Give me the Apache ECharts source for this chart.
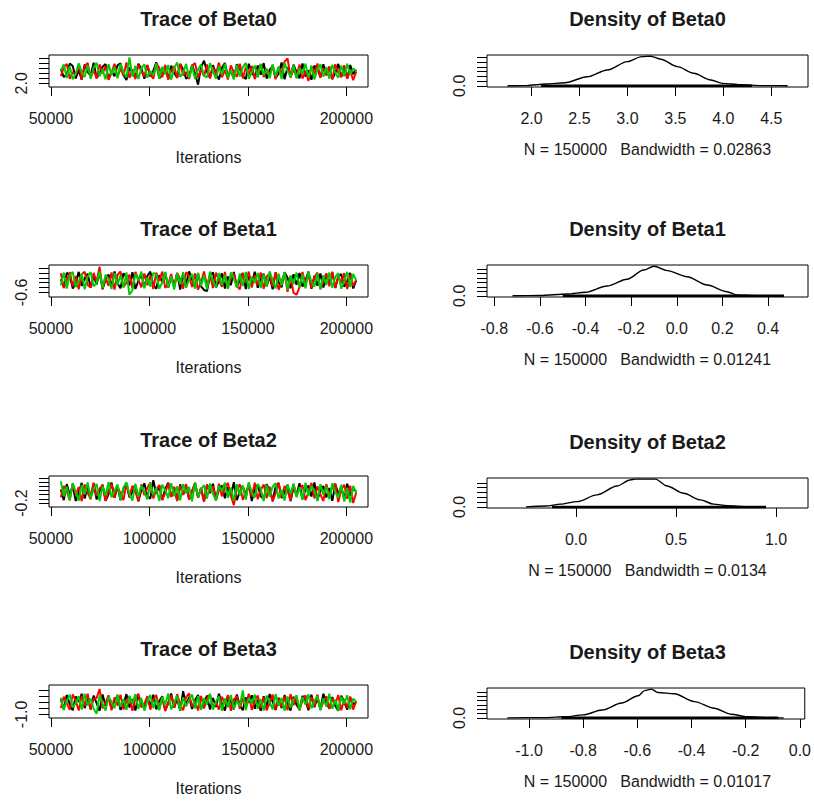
<!DOCTYPE html>
<html><head><meta charset="utf-8">
<script src="https://cdn.jsdelivr.net/npm/echarts@6/dist/echarts.min.js"></script>
<style>html,body{margin:0;padding:0;background:#fff}#c{width:814px;height:801px}</style>
</head><body><div id="c"></div>
<script>
// ---------------- data ----------------
const params = ['Beta0', 'Beta1', 'Beta2', 'Beta3'];
const iterRange = [55000, 205000];          // iterations shown in each chain
const iterTicks = [50000, 100000, 150000, 200000];
const chainColors = ['#000000', '#ff0000', '#00cd00'];

const beta0Black = [3.42,2.61,2.88,3.95,3.71,2.47,3.30,2.36,3.86,3.12,
  2.74,4.03,2.52,2.95,3.64,3.89,2.41,3.18,2.69,3.77,
  3.98,2.83,2.33,3.55,3.06,2.58,3.92,3.48,2.44,3.81,
  2.66,3.25,4.08,2.50,2.79,3.67,2.39,3.74,3.01,2.56,
  3.90,3.36,2.45,2.72,3.83,2.91,1.86,3.60,4.22,3.14,
  2.55,3.79,2.98,2.37,3.52,4.01,2.64,3.21,2.49,3.87,
  3.44,2.70,2.42,3.93,3.09,2.60,3.76,2.85,3.99,2.46,
  3.33,3.70,2.53,2.94,4.05,2.40,3.58,2.77,3.84,3.11,
  2.48,3.96,2.67,3.27,2.35,3.73,3.50,2.59,3.88,2.81,
  3.62,2.43,3.02,3.91,2.63,3.45,2.51,3.80,2.90,3.35];
const beta0Red = [2.71,3.58,3.92,2.44,3.13,2.82,3.79,2.39,3.66,4.00,
  2.57,3.29,2.48,3.87,2.96,3.71,2.35,3.04,3.93,2.62,
  3.47,2.75,4.06,2.53,3.38,2.41,3.84,3.19,2.68,3.76,
  2.88,2.45,3.97,3.52,2.60,3.82,2.37,3.23,3.68,2.52,
  3.90,2.79,3.11,2.43,3.74,3.99,2.56,3.40,2.70,3.86,
  2.46,3.63,2.92,4.04,2.58,3.31,2.38,3.77,3.07,2.65,
  3.94,2.50,3.55,2.84,3.70,2.42,3.16,3.89,2.61,3.43,
  2.74,3.81,2.40,3.60,2.97,4.14,4.45,2.55,3.36,2.69,
  3.85,2.47,3.21,2.22,3.72,2.90,3.95,2.54,3.48,2.78,
  3.67,2.36,3.88,3.05,2.59,3.78,2.44,3.26,2.30,3.15];
const beta0Green = [3.26,3.85,2.52,3.67,2.40,2.93,3.97,3.12,2.61,3.78,
  2.45,3.54,4.02,2.70,3.35,2.38,3.89,2.83,3.61,2.49,
  3.93,3.08,2.57,4.55,2.66,3.74,2.43,3.46,3.87,2.55,
  3.20,2.78,3.96,2.47,3.63,2.89,3.81,2.36,3.52,4.05,
  2.64,3.01,3.91,2.51,3.72,2.42,3.39,3.84,2.73,2.58,
  3.99,3.17,2.46,3.69,2.86,3.93,2.53,3.28,2.39,3.80,
  2.68,3.57,4.01,2.44,3.10,3.75,2.59,3.90,2.80,3.42,
  2.50,3.86,2.72,3.64,2.41,3.98,3.22,2.63,3.79,2.48,
  3.50,2.91,3.94,2.56,3.70,2.37,3.33,3.87,2.66,3.60,
  2.45,3.83,3.04,2.54,3.76,2.69,3.92,2.81,3.47,3.18];

// Beta1 chains
const beta1Black = [-0.05,-0.38,0.21,0.12,-0.44,-0.19,0.25,-0.33,-0.02,0.17,
  -0.41,0.09,-0.27,0.23,-0.47,-0.08,0.14,-0.36,0.27,-0.22,
  -0.43,0.19,0.04,-0.31,0.24,-0.46,-0.12,0.16,-0.38,0.08,
  0.26,-0.29,-0.45,0.11,-0.17,0.22,-0.40,0.03,-0.34,0.20,
  -0.48,0.15,-0.25,0.27,-0.06,-0.42,0.18,-0.35,-0.50,-0.55,
  0.10,0.23,-0.39,-0.14,0.19,-0.44,0.06,-0.30,0.25,-0.37,
  -0.09,0.21,-0.46,0.13,-0.23,0.26,-0.41,-0.03,0.17,-0.35,
  0.07,-0.47,0.22,-0.18,-0.39,0.24,0.01,-0.43,0.15,-0.28,
  0.20,-0.36,-0.11,0.26,-0.45,0.09,-0.32,0.18,-0.40,0.12,
  -0.24,0.23,-0.42,0.05,0.16,-0.37,-0.15,0.21,-0.44,-0.10];
const beta1Red = [0.19,-0.42,-0.10,0.24,-0.35,0.08,-0.47,0.15,0.26,-0.29,
  -0.40,0.21,-0.16,0.46,-0.44,0.02,-0.33,0.23,-0.48,0.12,
  0.27,-0.37,-0.21,0.14,-0.43,0.25,-0.07,-0.39,0.18,-0.30,
  0.10,-0.46,0.22,-0.13,0.26,-0.41,-0.26,0.16,-0.36,0.20,
  -0.04,-0.45,0.24,0.07,-0.38,0.19,-0.49,-0.18,0.27,-0.32,
  0.13,-0.42,0.22,-0.09,-0.37,0.25,-0.44,0.04,0.17,-0.34,
  -0.47,0.20,-0.20,0.26,-0.40,0.11,-0.31,0.23,-0.45,0.06,
  0.18,-0.36,0.24,-0.50,-0.14,0.21,-0.58,0.09,-0.62,-0.70,
  -0.38,0.25,-0.27,0.15,-0.43,0.03,0.22,-0.47,-0.12,0.19,
  -0.35,0.26,-0.41,0.08,-0.23,0.20,-0.46,0.13,-0.33,-0.08];
const beta1Green = [-0.31,0.22,-0.44,0.09,0.25,-0.38,-0.14,0.18,-0.47,0.06,
  0.24,-0.35,-0.21,0.27,-0.42,0.13,-0.03,-0.46,0.20,-0.28,
  0.11,-0.40,0.23,-0.70,-0.52,0.17,-0.11,0.26,-0.43,0.02,
  -0.36,0.21,0.14,-0.45,-0.19,0.25,-0.39,0.07,-0.48,0.19,
  -0.26,0.24,-0.41,-0.06,0.16,-0.44,0.22,-0.33,0.10,-0.47,
  0.26,-0.15,-0.38,0.20,-0.29,0.12,-0.45,0.23,-0.02,-0.40,
  0.18,-0.34,0.25,-0.46,0.05,-0.22,0.21,-0.42,0.15,-0.37,
  0.27,-0.09,-0.44,0.17,-0.31,0.24,-0.48,0.08,-0.25,0.22,
  -0.39,0.14,-0.43,0.26,-0.17,-0.36,0.19,-0.46,0.11,-0.30,
  0.23,-0.41,0.04,0.20,-0.45,-0.13,0.25,-0.38,0.16,-0.10];

// Beta2 chains
const beta2Black = [0.45,-0.06,0.71,0.18,0.63,-0.10,0.29,0.77,0.02,0.56,
  0.12,0.74,-0.03,0.38,0.68,-0.09,0.22,0.79,0.05,0.60,
  -0.07,0.51,0.72,0.08,0.33,0.66,-0.11,0.42,0.75,0.14,
  0.01,0.90,0.25,0.64,-0.05,0.48,0.78,0.10,0.57,-0.08,
  0.70,0.20,0.61,-0.02,0.36,0.76,0.06,0.53,-0.12,0.69,
  0.27,0.73,-0.04,0.44,0.65,0.03,0.58,0.16,0.80,-0.06,
  0.35,0.62,0.09,0.74,-0.10,0.50,0.67,0.13,-0.01,0.71,
  0.40,-0.08,0.59,0.77,0.04,0.31,0.68,-0.11,0.55,0.19,
  0.75,0.00,0.46,0.64,0.11,0.79,-0.05,0.37,0.62,0.07,
  0.52,-0.09,0.70,0.24,0.58,-0.03,0.73,0.15,0.49,0.36];
const beta2Red = [0.08,0.62,0.37,-0.07,0.74,0.21,0.56,-0.11,0.69,0.30,
  -0.02,0.78,0.14,0.49,0.66,-0.09,0.41,0.72,0.05,0.59,
  0.26,-0.06,0.75,0.11,0.63,0.34,-0.12,0.70,0.18,0.53,
  0.79,0.02,0.45,0.67,-0.04,0.28,0.74,0.09,0.57,-0.10,
  0.64,0.19,0.71,-0.03,0.40,0.76,0.06,0.50,-0.14,0.68,
  0.33,0.61,-0.08,0.73,0.12,0.55,0.77,0.15,-0.30,0.46,
  0.70,-0.05,0.35,0.64,0.10,0.78,-0.01,0.43,0.69,0.04,
  0.58,-0.13,0.27,0.75,0.08,0.62,0.39,-0.09,0.72,0.17,
  0.51,0.66,-0.06,0.31,0.77,0.03,0.60,0.22,-0.10,0.71,
  0.13,0.54,0.74,-0.15,0.44,0.68,0.01,0.63,-0.20,0.30];
const beta2Green = [0.85,0.12,0.58,-0.05,0.76,0.33,-0.09,0.67,0.21,0.79,
  0.03,0.47,0.72,-0.11,0.60,0.16,0.81,0.07,0.39,0.69,
  -0.04,0.55,0.80,0.24,-0.08,0.73,0.10,0.63,0.35,-0.02,
  0.77,0.19,0.52,-0.10,0.68,0.42,0.04,0.75,0.13,0.61,
  -0.07,0.71,0.28,0.57,-0.12,0.79,0.09,0.46,0.66,0.01,
  0.74,0.23,-0.06,0.62,0.37,0.78,0.05,0.54,-0.09,0.70,
  0.17,0.65,-0.03,0.80,0.30,0.06,0.72,0.49,-0.11,0.67,
  0.11,0.59,0.76,0.02,0.44,-0.08,0.69,0.25,0.73,0.08,
  0.56,-0.05,0.78,0.14,0.63,0.38,-0.10,0.71,0.20,0.60,
  -0.02,0.75,0.32,0.07,0.68,-0.13,0.54,-0.18,0.62,0.28];

// Beta3 chains
const beta3Black = [-0.50,-0.82,-0.35,-0.67,-0.86,-0.40,-0.58,-0.31,-0.79,-0.46,
  -0.84,-0.37,-0.62,-0.88,-0.33,-0.71,-0.44,-0.80,-0.54,-0.38,
  -0.85,-0.66,-0.32,-0.77,-0.49,-0.87,-0.36,-0.60,-0.81,-0.41,
  -0.73,-0.34,-0.83,-0.55,-0.39,-0.86,-0.63,-0.30,-0.78,-0.47,
  -0.88,-0.22,-0.69,-0.42,-0.82,-0.52,-0.35,-0.80,-0.59,-0.37,
  -0.84,-0.45,-0.75,-0.31,-0.65,-0.87,-0.40,-0.56,-0.83,-0.33,
  -0.70,-0.86,-0.43,-0.61,-0.36,-0.81,-0.51,-0.88,-0.39,-0.74,
  -0.32,-0.57,-0.85,-0.44,-0.79,-0.35,-0.64,-0.87,-0.41,-0.68,
  -0.83,-0.38,-0.53,-0.86,-0.34,-0.76,-0.46,-0.82,-0.31,-0.62,
  -0.80,-0.42,-0.72,-0.88,-0.37,-0.58,-0.84,-0.45,-0.66,-0.60];
const beta3Red = [-0.79,-0.41,-0.63,-0.85,-0.33,-0.54,-0.87,-0.38,-0.72,-0.31,
  -0.82,-0.48,-0.45,-0.15,-0.80,-0.60,-0.36,-0.86,-0.43,-0.70,
  -0.34,-0.83,-0.57,-0.39,-0.88,-0.47,-0.31,-0.76,-0.65,-0.40,
  -0.84,-0.52,-0.35,-0.81,-0.44,-0.89,-0.61,-0.37,-0.78,-0.32,
  -0.68,-0.86,-0.42,-0.30,-0.74,-0.55,-0.87,-0.38,-0.80,-0.46,
  -0.33,-0.77,-0.59,-0.84,-0.41,-0.66,-0.35,-0.88,-0.50,-0.39,
  -0.81,-0.45,-0.71,-0.31,-0.85,-0.56,-0.37,-0.79,-0.43,-0.87,
  -0.62,-0.34,-0.83,-0.48,-0.76,-0.40,-0.86,-0.32,-0.69,-0.44,
  -0.87,-0.53,-0.36,-0.80,-0.42,-0.74,-0.33,-0.85,-0.58,-0.39,
  -0.82,-0.46,-0.67,-0.35,-0.86,-0.49,-0.78,-0.40,-0.84,-0.55];
const beta3Green = [-0.44,-0.86,-0.53,-0.34,-0.77,-0.62,-0.39,-0.84,-0.31,-0.70,
  -0.47,-0.81,-0.98,-0.36,-0.66,-0.87,-0.42,-0.57,-0.80,-0.33,
  -0.75,-0.50,-0.85,-0.38,-0.64,-0.32,-0.82,-0.45,-0.88,-0.56,
  -0.35,-0.79,-0.48,-0.86,-0.41,-0.69,-0.30,-0.83,-0.60,-0.37,
  -0.87,-0.43,-0.73,-0.52,-0.33,-0.80,-0.39,-0.85,-0.46,-0.68,
  -0.31,-0.84,-0.58,-0.40,-0.88,-0.47,-0.76,-0.35,-0.82,-0.54,
  -0.72,-0.20,-0.86,-0.44,-0.63,-0.34,-0.81,-0.49,-0.87,-0.37,
  -0.59,-0.83,-0.32,-0.71,-0.45,-0.88,-0.40,-0.78,-0.51,-0.36,
  -0.85,-0.42,-0.67,-0.33,-0.80,-0.55,-0.38,-0.86,-0.46,-0.74,
  -0.31,-0.81,-0.50,-0.87,-0.41,-0.65,-0.36,-0.83,-0.47,-0.58];

const traceYRange = [[1.633, 4.792], [-0.792, 0.535], [-0.39, 1.10], [-1.122, -0.015]];
const traceYTicks = [[2.0,2.5,3.0,3.5,4.0,4.5], [-0.6,-0.4,-0.2,0.0,0.2,0.4],
  [-0.2,0.0,0.2,0.4,0.6,0.8,1.0], [-1.0,-0.8,-0.6,-0.4,-0.2]];

// Density curves
const dens0X = [1.75,1.95,2.15,2.35,2.58,2.79,3.0,3.15,3.24,3.35,3.52,3.69,3.87,3.99,4.18,4.4,4.67];
const dens0Y = [0.0,0.01,0.076,0.13,0.38,0.67,1.02,1.23,1.25,1.12,0.81,0.53,0.245,0.105,0.046,0.01,0.0];
const dens1X = [-0.72,-0.60,-0.48,-0.40,-0.306,-0.218,-0.145,-0.10,-0.042,0.045,0.133,0.22,0.265,0.35,0.47];
const dens1Y = [0,0.03,0.2,0.39,1.09,1.85,2.87,3.3,2.81,2.13,1.2,0.46,0.09,0.02,0];
const dens2X = [-0.25,-0.15,-0.078,0.005,0.105,0.205,0.27,0.297,0.35,0.397,0.455,0.538,0.622,0.688,0.755,0.85,0.95];
const dens2Y = [0,0.09,0.29,0.55,1.25,2.18,2.81,2.9,2.9,2.9,2.18,1.42,0.73,0.29,0.12,0.03,0];
const dens3X = [-1.08,-0.94,-0.866,-0.80,-0.73,-0.658,-0.597,-0.573,-0.548,-0.524,-0.463,-0.39,-0.316,-0.255,-0.194,-0.12,-0.06];
const dens3Y = [0,0.03,0.13,0.34,0.9,1.71,2.55,3.15,3.32,2.93,2.78,1.88,1.11,0.42,0.13,0.03,0];

const densXRange = [[1.536, 4.883], [-0.832, 0.575], [-0.445, 1.16], [-1.155, 0.018]];
const densXTicks = [[2.0,2.5,3.0,3.5,4.0,4.5], [-0.8,-0.6,-0.4,-0.2,0.0,0.2,0.4],
  [0.0,0.5,1.0], [-1.0,-0.8,-0.6,-0.4,-0.2,0.0]];
const densYTicks = [[0,0.2,0.4,0.6,0.8,1.0,1.2], [0,0.5,1.0,1.5,2.0,2.5,3.0],
  [0,0.5,1.0,1.5,2.0,2.5], [0,0.5,1.0,1.5,2.0,2.5,3.0]];
const rugRange = [[2.1, 4.3], [-0.5, 0.47], [-0.12, 0.95], [-0.88, -0.08]];
const nObs = 150000;
const bandwidths = ['0.02863', '0.01241', '0.0134', '0.01017'];

// ---------------- layout (pixels) ----------------
const traceBox = [{l:49,t:55,w:319,h:32},{l:49,t:265,w:319,h:32},{l:49,t:476,w:319,h:31},{l:49,t:685,w:319,h:33}];
const densBox  = [{l:487,t:55,w:321,h:32},{l:487,t:265,w:321,h:32},{l:487,t:478,w:321,h:30},{l:487,t:688,w:321,h:31}];
const FONT = '"Liberation Sans", Arial, sans-serif';
const TXT = '#1a1a1a';

const traceData = [
  [beta0Black, beta0Red, beta0Green],
  [beta1Black, beta1Red, beta1Green],
  [beta2Black, beta2Red, beta2Green],
  [beta3Black, beta3Red, beta3Green]
];
const densData = [[dens0X, dens0Y], [dens1X, dens1Y], [dens2X, dens2Y], [dens3X, dens3Y]];

const grids = [], xAxes = [], yAxes = [], series = [], graphics = [];
function fmt1(v) { return (Math.abs(v) < 1e-9 ? 0 : v).toFixed(1); }

function addAxes(box, xr, xticks, xfmt, yr, yticks, ylabelVals) {
  const gi = grids.length;
  grids.push({left: box.l, top: box.t, width: box.w, height: box.h, show: true,
    borderColor: '#000', borderWidth: 1, backgroundColor: 'transparent', containLabel: false});
  xAxes.push({type: 'value', gridIndex: gi, min: xr[0], max: xr[1], position: 'bottom',
    axisLine: {show: false, onZero: false}, splitLine: {show: false},
    axisTick: {show: true, customValues: xticks, length: 9, lineStyle: {color: '#000', width: 1}},
    axisLabel: {show: true, customValues: xticks, formatter: xfmt, margin: 23,
      color: TXT, fontSize: 16, fontFamily: FONT, hideOverlap: false}});
  yAxes.push({type: 'value', gridIndex: gi, min: yr[0], max: yr[1], position: 'left',
    axisLine: {show: false, onZero: false}, splitLine: {show: false},
    axisTick: {show: true, customValues: yticks, length: 10, lineStyle: {color: '#000', width: 1}},
    axisLabel: {show: true, customValues: ylabelVals, formatter: fmt1, rotate: 90, margin: 20,
      color: TXT, fontSize: 16, fontFamily: FONT}});
  return gi;
}

function addText(x, y, text, bold, size) {
  graphics.push({type: 'text', x: x, y: y, silent: true,
    style: {text: text, fill: TXT, font: (bold ? 'bold ' : '') + size + 'px ' + FONT,
      align: 'center', verticalAlign: 'middle'}});
}

params.forEach(function (p, k) {
  // ---- trace panel ----
  const tb = traceBox[k];
  const span = iterRange[1] - iterRange[0];
  const gi = addAxes(tb, [iterRange[0] - 0.04 * span, iterRange[1] + 0.04 * span],
    iterTicks, function (v) { return String(v); },
    traceYRange[k], traceYTicks[k], [traceYTicks[k][0]]);
  traceData[k].forEach(function (chain, c) {
    const n = chain.length;
    const step = span / (n - 1);
    series.push({type: 'line', xAxisIndex: gi, yAxisIndex: gi, showSymbol: false, symbol: 'none',
      animation: false, silent: true, clip: true,
      lineStyle: {color: chainColors[c], width: 2},
      data: chain.map(function (v, i) { return [iterRange[0] + i * step, v]; })});
  });
  addText(tb.l + tb.w / 2, tb.t - 36, 'Trace of ' + p, true, 20);
  addText(tb.l + tb.w / 2, tb.t + tb.h + 70, 'Iterations', false, 16);

  // ---- density panel ----
  const db = densBox[k];
  const dx = densData[k][0], dy = densData[k][1];
  const M = Math.max.apply(null, dy);
  const gd = addAxes(db, densXRange[k], densXTicks[k], fmt1,
    [-0.04 * M, 1.04 * M], densYTicks[k], [0]);
  series.push({type: 'line', xAxisIndex: gd, yAxisIndex: gd, showSymbol: false, symbol: 'none',
    animation: false, silent: true, smooth: 0.3, smoothMonotone: 'x',
    lineStyle: {color: '#000', width: 1.4},
    data: dx.map(function (x, i) { return [x, dy[i]]; })});
  series.push({type: 'line', xAxisIndex: gd, yAxisIndex: gd, showSymbol: false, symbol: 'none',
    animation: false, silent: true,
    lineStyle: {color: '#000', width: 2.5},
    data: [[rugRange[k][0], 0], [rugRange[k][1], 0]]});
  addText(db.l + db.w / 2, db.t - 36, 'Density of ' + p, true, 20);
  addText(db.l + db.w / 2, db.t + db.h + 62, 'N = ' + nObs + '   Bandwidth = ' + bandwidths[k], false, 16);
});

const chart = echarts.init(document.getElementById('c'), null, {renderer: 'svg'});
chart.setOption({
  backgroundColor: '#ffffff',
  animation: false,
  grid: grids, xAxis: xAxes, yAxis: yAxes, series: series, graphic: graphics
});
</script></body></html>
